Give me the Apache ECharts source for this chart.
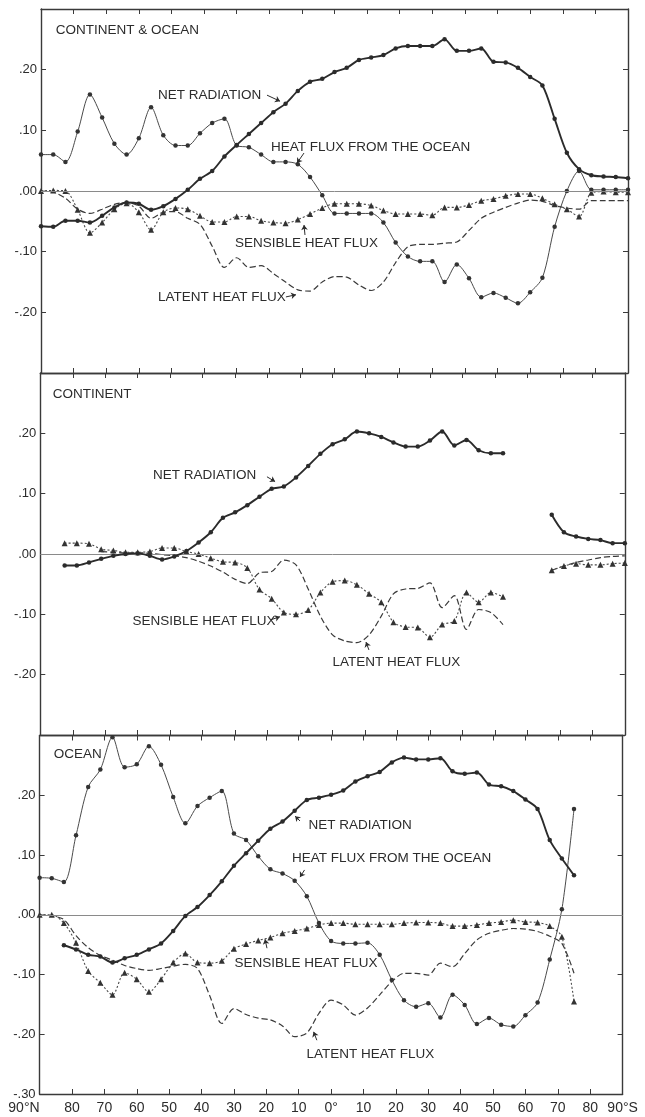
<!DOCTYPE html>
<html>
<head>
<meta charset="utf-8">
<script src="https://cdn.jsdelivr.net/npm/echarts@6/dist/echarts.min.js"></script>
<style>
  html, body { margin: 0; padding: 0; background: #fff; }
  #chart { width: 645px; height: 1117px; }
</style>
</head>
<body>
<div id="chart"></div>
<script>
// Zone latitudes (degrees, north positive), 90°N ... 90°S
const LAT = [90, 86.25, 82.5, 78.75, 75, 71.25, 67.5, 63.75, 60, 56.25,
  52.5, 48.75, 45, 41.25, 37.5, 33.75, 30, 26.25, 22.5, 18.75,
  15, 11.25, 7.5, 3.75, 0, -3.75, -7.5, -11.25, -15, -18.75,
  -22.5, -26.25, -30, -33.75, -37.5, -41.25, -45, -48.75, -52.5, -56.25,
  -60, -63.75, -67.5, -71.25, -75, -78.75, -82.5, -86.25, -90];

const LAT_TICKS = [90, 80, 70, 60, 50, 40, 30, 20, 10, 0, -10, -20, -30, -40, -50, -60, -70, -80, -90];
const LAT_TICK_LABELS = ['90°N', '80', '70', '60', '50', '40', '30', '20', '10', '0°',
  '10', '20', '30', '40', '50', '60', '70', '80', '90°S'];
const FLUX_TICKS = [-0.3, -0.2, -0.1, 0, 0.1, 0.2];
const FLUX_TICK_LABELS = ['-.30', '-.20', '-.10', '.00', '.10', '.20'];

const PANEL_TITLES = ['CONTINENT & OCEAN', 'CONTINENT', 'OCEAN'];
const NAME_NET = 'NET RADIATION';
const NAME_OCEAN = 'HEAT FLUX FROM THE OCEAN';
const NAME_SENS = 'SENSIBLE HEAT FLUX';
const NAME_LAT = 'LATENT HEAT FLUX';

// ---- Continent & ocean ----
const CO_NET = [-0.058, -0.059, -0.049, -0.049, -0.052, -0.041, -0.027, -0.019, -0.021, -0.031,
  -0.025, -0.013, 0.002, 0.020, 0.033, 0.057, 0.076, 0.094, 0.112, 0.130,
  0.144, 0.165, 0.180, 0.185, 0.196, 0.203, 0.216, 0.220, 0.224, 0.235,
  0.239, 0.239, 0.239, 0.250, 0.231, 0.231, 0.235, 0.213, 0.212, 0.203,
  0.188, 0.174, 0.119, 0.063, 0.036, 0.026, 0.024, 0.023, 0.021];
const CO_OCEAN = [0.060, 0.060, 0.048, 0.098, 0.159, 0.121, 0.078, 0.060, 0.087, 0.138,
  0.092, 0.075, 0.075, 0.095, 0.112, 0.119, 0.075, 0.072, 0.060, 0.048,
  0.048, 0.044, 0.023, -0.007, -0.037, -0.037, -0.037, -0.037, -0.052, -0.085,
  -0.108, -0.116, -0.116, -0.150, -0.121, -0.144, -0.175, -0.168, -0.176, -0.185,
  -0.167, -0.143, -0.059, 0.000, 0.033, 0.002, 0.002, 0.002, 0.002];
const CO_SENS = [0.000, 0.001, 0.000, -0.031, -0.069, -0.052, -0.030, -0.020, -0.035, -0.064,
  -0.035, -0.028, -0.030, -0.041, -0.051, -0.051, -0.042, -0.042, -0.049, -0.052,
  -0.053, -0.047, -0.038, -0.028, -0.021, -0.021, -0.021, -0.024, -0.032, -0.038,
  -0.038, -0.038, -0.040, -0.027, -0.027, -0.023, -0.016, -0.013, -0.008, -0.005,
  -0.005, -0.012, -0.022, -0.030, -0.042, -0.003, -0.001, -0.002, -0.002];
const CO_LAT = [0.000, -0.002, -0.012, -0.030, -0.037, -0.030, -0.022, -0.019, -0.025, -0.045,
  -0.035, -0.034, -0.045, -0.055, -0.091, -0.126, -0.110, -0.126, -0.123, -0.136,
  -0.150, -0.163, -0.165, -0.150, -0.141, -0.142, -0.155, -0.164, -0.150, -0.118,
  -0.092, -0.088, -0.088, -0.086, -0.084, -0.065, -0.045, -0.035, -0.027, -0.020,
  -0.015, -0.017, -0.024, -0.028, -0.030, -0.016, -0.016, -0.016, -0.016];

// ---- Continent ----
const CN_NET = [null, null, -0.019, -0.019, -0.014, -0.008, -0.003, 0.000, 0.001, -0.003,
  -0.009, -0.004, 0.005, 0.019, 0.036, 0.060, 0.069, 0.081, 0.095, 0.108,
  0.112, 0.127, 0.146, 0.166, 0.182, 0.190, 0.203, 0.200, 0.194, 0.185,
  0.178, 0.178, 0.188, 0.203, 0.180, 0.189, 0.172, 0.167, 0.167, null,
  null, null, 0.065, 0.036, 0.029, 0.025, 0.023, 0.018, 0.018];
const CN_SENS = [null, null, 0.018, 0.018, 0.017, 0.008, 0.006, 0.003, 0.003, 0.004,
  0.010, 0.010, 0.004, 0.000, -0.007, -0.013, -0.014, -0.023, -0.059, -0.074,
  -0.097, -0.100, -0.093, -0.064, -0.046, -0.044, -0.051, -0.066, -0.080, -0.113,
  -0.121, -0.122, -0.138, -0.117, -0.111, -0.064, -0.080, -0.064, -0.071, null,
  null, null, -0.027, -0.020, -0.016, -0.018, -0.018, -0.016, -0.015];
const CN_LAT = [null, null, null, null, null, 0.004, 0.003, 0.002, 0.002, 0.001,
  -0.001, -0.003, -0.006, -0.012, -0.020, -0.030, -0.042, -0.049, -0.031, -0.029,
  -0.010, -0.018, -0.058, -0.103, -0.134, -0.144, -0.147, -0.134, -0.103, -0.066,
  -0.058, -0.057, -0.048, -0.089, -0.069, -0.125, -0.092, -0.097, -0.117, null,
  null, null, -0.027, -0.020, -0.014, -0.010, -0.006, -0.004, -0.003];

// ---- Ocean ----
const OC_NET = [null, null, -0.051, -0.058, -0.067, -0.070, -0.080, -0.073, -0.067, -0.058,
  -0.048, -0.027, -0.002, 0.013, 0.033, 0.056, 0.082, 0.103, 0.124, 0.144,
  0.156, 0.174, 0.192, 0.196, 0.201, 0.208, 0.223, 0.232, 0.239, 0.255,
  0.263, 0.260, 0.260, 0.262, 0.240, 0.236, 0.238, 0.218, 0.215, 0.207,
  0.193, 0.177, 0.125, 0.094, 0.066, null, null, null, null];
const OC_OCEAN = [0.062, 0.061, 0.055, 0.133, 0.214, 0.243, 0.297, 0.247, 0.252, 0.282,
  0.251, 0.197, 0.153, 0.182, 0.196, 0.207, 0.136, 0.125, 0.098, 0.076,
  0.069, 0.057, 0.031, -0.014, -0.044, -0.048, -0.048, -0.047, -0.067, -0.109,
  -0.143, -0.154, -0.148, -0.172, -0.134, -0.151, -0.183, -0.173, -0.184, -0.187,
  -0.168, -0.147, -0.075, 0.009, 0.177, null, null, null, null];
const OC_SENS = [0.000, 0.000, -0.014, -0.047, -0.094, -0.114, -0.134, -0.097, -0.108, -0.129,
  -0.108, -0.080, -0.065, -0.080, -0.081, -0.077, -0.057, -0.049, -0.043, -0.038,
  -0.031, -0.027, -0.023, -0.017, -0.014, -0.014, -0.016, -0.016, -0.016, -0.016,
  -0.014, -0.013, -0.013, -0.014, -0.019, -0.019, -0.017, -0.014, -0.012, -0.009,
  -0.012, -0.013, -0.019, -0.037, -0.145, null, null, null, null];
const OC_LAT = [0.000, -0.002, -0.008, -0.035, -0.055, -0.068, -0.076, -0.085, -0.090, -0.093,
  -0.090, -0.086, -0.083, -0.090, -0.135, -0.182, -0.157, -0.167, -0.173, -0.176,
  -0.186, -0.204, -0.198, -0.165, -0.143, -0.151, -0.168, -0.156, -0.134, -0.112,
  -0.098, -0.098, -0.101, -0.081, -0.087, -0.065, -0.042, -0.031, -0.026, -0.023,
  -0.024, -0.028, -0.036, -0.048, -0.098, null, null, null, null];

const PANELS = [
  { net: CO_NET, ocean: CO_OCEAN, sens: CO_SENS, lat: CO_LAT },
  { net: CN_NET, ocean: null, sens: CN_SENS, lat: CN_LAT },
  { net: OC_NET, ocean: OC_OCEAN, sens: OC_SENS, lat: OC_LAT }
];

// Frame of each panel, in page pixels
const FRAMES = [
  { left: 41, width: 587, top: 9, height: 364 },
  { left: 40.3, width: 584.5, top: 373, height: 362 },
  { left: 39.6, width: 583, top: 735.5, height: 358.5 }
];

// Curve labels, anchored in data coordinates (left edge, vertical middle)
const NOTES = [
  { panel: 0, text: PANEL_TITLES[0], at: [85.5, 0.265] },
  { panel: 0, text: NAME_NET, at: [54.1, 0.158] },
  { panel: 0, text: NAME_OCEAN, at: [19.5, 0.0725] },
  { panel: 0, text: NAME_SENS, at: [30.5, -0.0857] },
  { panel: 0, text: NAME_LAT, at: [54.1, -0.176] },
  { panel: 1, text: PANEL_TITLES[1], at: [86.2, 0.265] },
  { panel: 1, text: NAME_NET, at: [55.3, 0.131] },
  { panel: 1, text: NAME_SENS, at: [61.6, -0.111] },
  { panel: 1, text: NAME_LAT, at: [0.0, -0.179] },
  { panel: 2, text: PANEL_TITLES[2], at: [85.6, 0.269] },
  { panel: 2, text: NAME_NET, at: [6.95, 0.150] },
  { panel: 2, text: NAME_OCEAN, at: [12.1, 0.095] },
  { panel: 2, text: NAME_SENS, at: [29.8, -0.081] },
  { panel: 2, text: NAME_LAT, at: [7.6, -0.233] }
];

// Small leader arrows from the labels to their curves
const POINTERS = [
  { panel: 0, from: [20.7, 0.158], to: [16.7, 0.148] },
  { panel: 0, from: [9.35, 0.0626], to: [11.5, 0.046] },
  { panel: 0, from: [9.05, -0.0725], to: [9.35, -0.056] },
  { panel: 0, from: [14.9, -0.1746], to: [11.8, -0.171] },
  { panel: 1, from: [20.2, 0.128], to: [17.7, 0.120] },
  { panel: 1, from: [19.0, -0.109], to: [16.2, -0.104] },
  { panel: 1, from: [-11.2, -0.159], to: [-10.3, -0.146] },
  { panel: 2, from: [9.6, 0.157], to: [11.1, 0.165] },
  { panel: 2, from: [8.2, 0.075], to: [9.6, 0.063] },
  { panel: 2, from: [19.8, -0.056], to: [20.4, -0.041] },
  { panel: 2, from: [4.4, -0.21], to: [5.4, -0.196] }
];

const INK = '#2c2c2c';
const FRAME_INK = '#3a3a3a';
const FONT = '"Liberation Sans", Arial, sans-serif';

function matchIndex(list, v) {
  return list.findIndex(t => Math.abs(t - v) < 1e-6);
}

function pairs(values) {
  return LAT.map((lat, i) => [lat, values[i] == null ? '-' : values[i]]);
}

const grid = FRAMES.map(f => ({ left: f.left, top: f.top, width: f.width, height: f.height, containLabel: false }));

const xAxis = [];
const yAxis = [];
FRAMES.forEach((f, p) => {
  const common = {
    gridIndex: p, type: 'value', min: -90, max: 90, interval: 10, inverse: true,
    axisLine: { show: true, onZero: false, lineStyle: { color: FRAME_INK, width: 1.4 } },
    axisTick: { show: true, inside: true, length: 5, lineStyle: { color: FRAME_INK, width: 1 } },
    splitLine: { show: false }
  };
  xAxis.push(Object.assign({}, common, {
    position: 'bottom',
    axisLabel: {
      show: p === 2, margin: 7, color: INK, fontFamily: FONT, fontSize: 14,
      showMinLabel: true, showMaxLabel: true, alignMaxLabel: 'right',
      formatter: v => { const k = matchIndex(LAT_TICKS, v); return k < 0 ? '' : LAT_TICK_LABELS[k]; }
    }
  }));
  xAxis.push(Object.assign({}, common, { position: 'top', axisLabel: { show: false } }));

  const yCommon = {
    gridIndex: p, type: 'value', min: -0.3, max: 0.3, interval: 0.1,
    axisLine: { show: true, onZero: false, lineStyle: { color: FRAME_INK, width: 1.4 } },
    axisTick: { show: true, inside: true, length: 5, lineStyle: { color: FRAME_INK, width: 1 } },
    splitLine: { show: false }
  };
  yAxis.push(Object.assign({}, yCommon, {
    position: 'left',
    axisLabel: {
      show: true, margin: 4, color: INK, fontFamily: FONT, fontSize: 13,
      showMinLabel: true, showMaxLabel: true,
      formatter: v => {
        const k = matchIndex(FLUX_TICKS, v);
        if (k < 0) return '';
        if (k === 0 && p !== 2) return '';
        return FLUX_TICK_LABELS[k];
      }
    }
  }));
  yAxis.push(Object.assign({}, yCommon, { position: 'right', axisLabel: { show: false } }));
});

const series = [];
PANELS.forEach((panel, p) => {
  const ax = { xAxisIndex: 2 * p, yAxisIndex: 2 * p };
  const marks = [{ yAxis: 0, lineStyle: { color: '#8a8a8a', width: 1, type: 'solid' } }];
  POINTERS.filter(a => a.panel === p).forEach(a => {
    marks.push([
      { coord: a.from, symbol: 'none', lineStyle: { color: INK, width: 1, type: 'solid' } },
      { coord: a.to, symbol: 'arrow', symbolSize: 5 }
    ]);
  });
  series.push(Object.assign({
    name: NAME_NET, type: 'line', data: pairs(panel.net), smooth: 0.3, connectNulls: false,
    symbol: 'circle', symbolSize: 4.5, showSymbol: true,
    lineStyle: { color: '#2b2b2b', width: 1.9 },
    itemStyle: { color: '#2b2b2b' },
    markLine: { silent: true, symbol: ['none', 'none'], label: { show: false }, animation: false, data: marks },
    z: 5
  }, ax));
  if (panel.ocean) {
    series.push(Object.assign({
      name: NAME_OCEAN, type: 'line', data: pairs(panel.ocean), smooth: 0.3, connectNulls: false,
      symbol: 'circle', symbolSize: 4.5,
      lineStyle: { color: '#4a4a4a', width: 1 },
      itemStyle: { color: '#333' },
      z: 4
    }, ax));
  }
  series.push(Object.assign({
    name: NAME_SENS, type: 'line', data: pairs(panel.sens), smooth: 0.3, connectNulls: false,
    symbol: 'triangle', symbolSize: 6,
    lineStyle: { color: '#4a4a4a', width: 1.1, type: [2, 2] },
    itemStyle: { color: '#333' },
    z: 4
  }, ax));
  series.push(Object.assign({
    name: NAME_LAT, type: 'line', data: pairs(panel.lat), smooth: 0.3, connectNulls: false,
    symbol: 'none',
    lineStyle: { color: '#3a3a3a', width: 1.2, type: [6, 3] },
    z: 3
  }, ax));
});

const chart = echarts.init(document.getElementById('chart'), null, { renderer: 'canvas' });
chart.setOption({
  backgroundColor: '#ffffff',
  animation: false,
  grid, xAxis, yAxis, series
});

// Curve labels placed through each panel's own scales
const labels = NOTES.map(n => {
  const pt = chart.convertToPixel({ gridIndex: n.panel }, n.at);
  return {
    type: 'text', x: pt[0], y: pt[1], silent: true, z: 10,
    style: { text: n.text, fill: INK, font: '13.5px ' + FONT, verticalAlign: 'middle', align: 'left' }
  };
});
chart.setOption({ graphic: labels });
</script>
</body>
</html>
